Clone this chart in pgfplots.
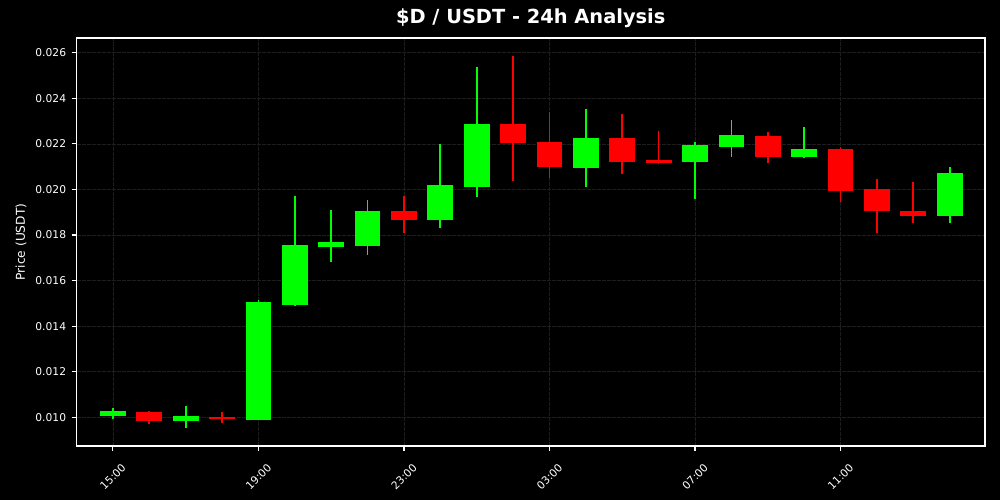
\documentclass[border=0pt]{standalone}
\usepackage{fontspec}
\setmainfont{DejaVu Sans}
\usepackage{pgfplots}
\pgfplotsset{compat=1.18}
\definecolor{cgreen}{RGB}{0,255,0}
\definecolor{cred}{RGB}{255,0,0}
\definecolor{cgrid}{RGB}{30,30,30}
% #1 x, #2 open, #3 high, #4 low, #5 close, #6 colour
\newcommand{\candle}[6]{%
  \pgfmathsetmacro\xa{#1-0.34}%
  \pgfmathsetmacro\xb{#1+0.34}%
  \addplot[draw=#6, line width=1.7pt, mark=none] coordinates {(#1,#4) (#1,#3)};
  \addplot[draw=#6, fill=#6, line width=1pt, mark=none]
    coordinates {(\xa,#2) (\xb,#2) (\xb,#5) (\xa,#5)} -- cycle;
}
\begin{document}
\begin{tikzpicture}
\fill[black] (0,0) rectangle (1000pt,500pt);
\useasboundingbox (0,0) rectangle (1000pt,500pt);
\begin{axis}[
  at={(76.5pt,54pt)}, anchor=south west, scale only axis,
  width=908.5pt, height=408pt,
  xmin=-1.0, xmax=23.97, ymin=0.00874, ymax=0.02665,
  axis background/.style={fill=black},
  axis line style={white, line width=1.1pt},
  tick style={white, line width=1.1pt},
  tick align=outside, tick pos=left, major tick length=4.9pt,
  xtick={0,4,8,12,16,20},
  xticklabels={15:00,19:00,23:00,03:00,07:00,11:00},
  ytick={0.010,0.012,0.014,0.016,0.018,0.020,0.022,0.024,0.026},
  scaled y ticks=false,
  yticklabel style={/pgf/number format/.cd, fixed, fixed zerofill, precision=3, /tikz/.cd, xshift=-2pt},
  /pgf/number format/assume math mode=true,
  ticklabel style={font=\fontsize{10.7}{12}\selectfont, text=white},
  xticklabel style={anchor=center, yshift=-26pt, rotate=45},
  grid=major,
  major grid style={cgrid, line width=0.7pt, dash pattern=on 4pt off 1pt},
  ylabel={Price (USDT)},
  ylabel style={text=white, font=\fontsize{12.2}{14}\selectfont,
    at={(axis description cs:0,0.5)}, anchor=center, xshift=0pt, yshift=55.5pt},
  title={\$D / USDT - 24h Analysis},
  title style={text=white, font=\fontsize{19.4}{22}\selectfont\bfseries,
    at={(axis description cs:0.5,1)}, anchor=base, yshift=8pt},
]
\candle{0}{0.01006}{0.01040}{0.00991}{0.01025}{cgreen}
\candle{1}{0.01023}{0.01029}{0.00969}{0.00984}{cred}
\candle{2}{0.00985}{0.01050}{0.00954}{0.01003}{cgreen}
\candle{3}{0.01001}{0.01022}{0.00976}{0.00996}{cred}
\candle{4}{0.00991}{0.01515}{0.00990}{0.01503}{cgreen}
\candle{5}{0.01497}{0.01971}{0.01488}{0.01752}{cgreen}
\candle{6}{0.01749}{0.01910}{0.01683}{0.01766}{cgreen}
\candle{7}{0.01756}{0.01954}{0.01712}{0.01905}{cgreen}
\candle{8}{0.01905}{0.01971}{0.01810}{0.01867}{cred}
\candle{9}{0.01870}{0.02200}{0.01832}{0.02016}{cgreen}
\candle{10}{0.02012}{0.02536}{0.01968}{0.02287}{cgreen}
\candle{11}{0.02287}{0.02585}{0.02038}{0.02205}{cred}
\candle{12}{0.02207}{0.02338}{0.02049}{0.02100}{cred}
\candle{13}{0.02095}{0.02352}{0.02009}{0.02226}{cgreen}
\candle{14}{0.02226}{0.02331}{0.02068}{0.02123}{cred}
\candle{15}{0.02126}{0.02256}{0.02113}{0.02120}{cred}
\candle{16}{0.02122}{0.02207}{0.01957}{0.02191}{cgreen}
\candle{17}{0.02187}{0.02303}{0.02144}{0.02239}{cgreen}
\candle{18}{0.02234}{0.02251}{0.02115}{0.02144}{cred}
\candle{19}{0.02144}{0.02274}{0.02140}{0.02177}{cgreen}
\candle{20}{0.02177}{0.02186}{0.01946}{0.01997}{cred}
\candle{21}{0.02002}{0.02046}{0.01810}{0.01907}{cred}
\candle{22}{0.01905}{0.02033}{0.01854}{0.01885}{cred}
\candle{23}{0.01885}{0.02097}{0.01851}{0.02072}{cgreen}
\end{axis}
\end{tikzpicture}
\end{document}
